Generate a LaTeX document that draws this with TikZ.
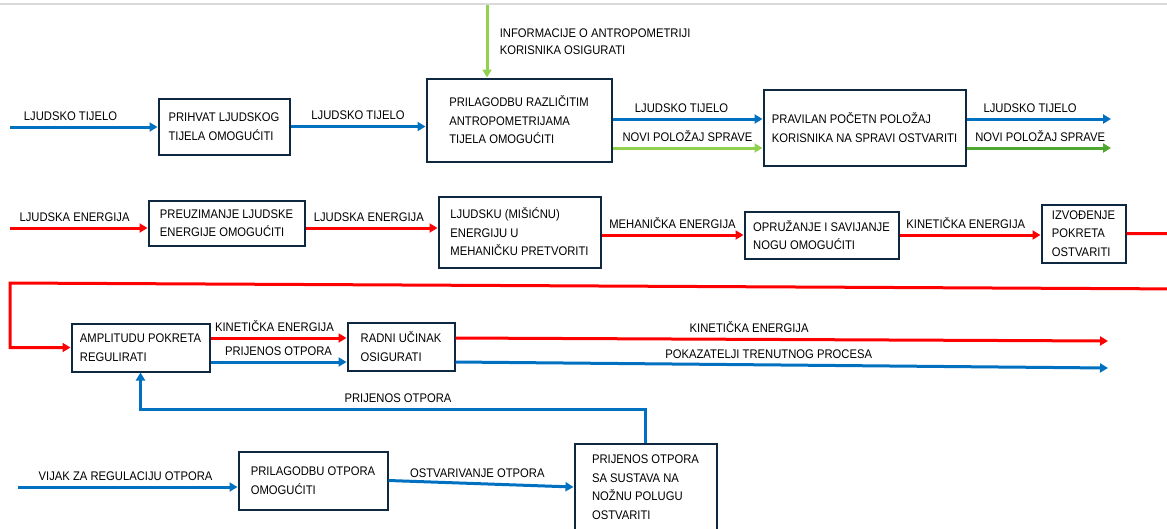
\documentclass[tikz,border=0pt]{standalone}
\usepackage{fontspec}
\setmainfont[FakeStretch=0.9]{Liberation Sans}
\usetikzlibrary{arrows.meta}

\definecolor{cnavy}{HTML}{0E2841}
\definecolor{cblue}{HTML}{0070C0}
\definecolor{cred}{HTML}{FF0000}
\definecolor{cgreen}{HTML}{92D050}
\definecolor{cdgreen}{HTML}{4EA72E}

\begin{document}
\begin{tikzpicture}[x=1pt,y=-1pt,
  box/.style={draw=cnavy,line width=2pt,align=left,inner sep=2pt,
    font=\fontsize{12.5}{18.5}\selectfont},
  lbl/.style={font=\fontsize{12.5}{14}\selectfont,inner sep=2pt,above,yshift=3pt},
  flow/.style={line width=3pt,-{Triangle[length=8pt,width=9pt]}},
  bluline/.style={flow,draw=cblue},
  redline/.style={flow,draw=cred},
  grnline/.style={flow,draw=cgreen},
  dgrnline/.style={flow,draw=cdgreen}]
\useasboundingbox (0,0) rectangle (1167,528);
\clip (0,0) rectangle (1167,528);
\draw[line width=2pt,black!15] (0,4) -- (1167,4);

% boxes
\node[box,minimum width=131pt,minimum height=56pt] (b1) at (224,126.5) {PRIHVAT LJUDSKOG\\TIJELA OMOGUĆITI};
\node[box,minimum width=185pt,minimum height=83pt] (b2) at (519,120) {PRILAGODBU RAZLIČITIM\\ANTROPOMETRIJAMA\\TIJELA OMOGUĆITI};
\node[box,minimum width=202pt,minimum height=76pt] (b3) at (864.5,127.5) {PRAVILAN POČETN POLOŽAJ\\KORISNIKA NA SPRAVI OSTVARITI};
\node[box,minimum width=156pt,minimum height=45pt] (b4) at (226.5,223) {PREUZIMANJE LJUDSKE\\ENERGIJE OMOGUĆITI};
\node[box,minimum width=162pt,minimum height=71pt] (b5) at (519.5,232) {LJUDSKU (MIŠIĆNU)\\ENERGIJU U\\MEHANIČKU PRETVORITI};
\node[box,minimum width=154pt,minimum height=47pt] (b6) at (821.5,235) {OPRUŽANJE I SAVIJANJE\\NOGU OMOGUĆITI};
\node[box,minimum width=84pt,minimum height=58pt] (b7) at (1083.5,233.5) {IZVOĐENJE\\POKRETA\\OSTVARITI};
\node[box,minimum width=138pt,minimum height=48pt] (b8) at (140.5,347.5) {AMPLITUDU POKRETA\\REGULIRATI};
\node[box,minimum width=107pt,minimum height=48pt] (b9) at (401,346.5) {RADNI UČINAK\\OSIGURATI};
\node[box,minimum width=149pt,minimum height=58pt] (b10) at (313,480.5) {PRILAGODBU OTPORA\\OMOGUĆITI};
\node[box,minimum width=142pt,minimum height=86pt] (b11) at (645.5,487) {PRIJENOS OTPORA\\SA SUSTAVA NA\\NOŽNU POLUGU\\OSTVARITI};

% free ends
\coordinate (in1) at (10,127);
\coordinate (in2) at (10,228);
\coordinate (in4) at (18,487);
\coordinate (g0) at (487,5);
\coordinate (o1) at (1111,119);
\coordinate (o2) at (1111,148);
\coordinate (k0) at (0,338);
\coordinate (p0) at (0,362);
\coordinate (kout) at (1108,341);
\coordinate (pout) at (1108,368);
\coordinate (rt1) at (1190,233.5);
\coordinate (rt2) at (1190,289);
\coordinate (rl1) at (10,283);
\coordinate (rl2) at (10,347.5);
\coordinate (fb) at (645.5,409);

% row 1
\draw[grnline] (g0) -- (g0 |- b2.north)
  node[pos=0.5,anchor=west,xshift=8pt,align=left,font=\fontsize{12.5}{17}\selectfont]
  {INFORMACIJE O ANTROPOMETRIJI\\KORISNIKA OSIGURATI};
\draw[bluline] (in1) -- (in1 -| b1.west) node[lbl,pos=0.41] {LJUDSKO TIJELO};
\draw[bluline] (b1.east) -- (b2.west |- b1.east) node[lbl,midway] {LJUDSKO TIJELO};
\draw[bluline] (b2.east |- o1) -- (b3.west |- o1) node[lbl,pos=0.46] {LJUDSKO TIJELO};
\draw[grnline] (b2.east |- o2) -- (b3.west |- o2) node[lbl,midway] {NOVI POLOŽAJ SPRAVE};
\draw[bluline] (b3.east |- o1) -- (o1) node[lbl,pos=0.44] {LJUDSKO TIJELO};
\draw[dgrnline] (b3.east |- o2) -- (o2) node[lbl,pos=0.51] {NOVI POLOŽAJ SPRAVE};

% row 2
\draw[redline] (in2) -- (in2 -| b4.west) node[lbl,pos=0.47] {LJUDSKA ENERGIJA};
\draw[redline] (b4.east |- in2) -- (b5.west |- in2) node[lbl,pos=0.48] {LJUDSKA ENERGIJA};
\draw[redline] (b5.east |- b6.west) -- (b6.west) node[lbl,midway] {MEHANIČKA ENERGIJA};
\draw[redline] (b6.east) -- (b7.west |- b6.east) node[lbl,pos=0.47] {KINETIČKA ENERGIJA};
\draw[redline] (b7.east) -- (rt1) -- (rt2) -- (rl1) -- (rl2) -- (b8.west);

% row 3
\draw[redline] (b8.east |- k0) -- (b9.west |- k0) node[lbl,pos=0.47] {KINETIČKA ENERGIJA};
\draw[bluline] (b8.east |- p0) -- (b9.west |- p0) node[lbl,midway] {PRIJENOS OTPORA};
\draw[redline] (b9.east |- k0) -- (kout) node[lbl,pos=0.45] {KINETIČKA ENERGIJA};
\draw[bluline] (b9.east |- p0) -- (pout) node[lbl,pos=0.48] {POKAZATELJI TRENUTNOG PROCESA};
\draw[bluline] (b11.north) -- (fb) -- (fb -| b8.south) node[lbl,pos=0.49] {PRIJENOS OTPORA} -- (b8.south);

% row 4
\draw[bluline] (in4) -- (in4 -| b10.west) node[lbl,pos=0.49] {VIJAK ZA REGULACIJU OTPORA};
\draw[bluline] (b10.east) -- (b11.west) node[lbl,pos=0.48] {OSTVARIVANJE OTPORA};
\end{tikzpicture}
\end{document}
